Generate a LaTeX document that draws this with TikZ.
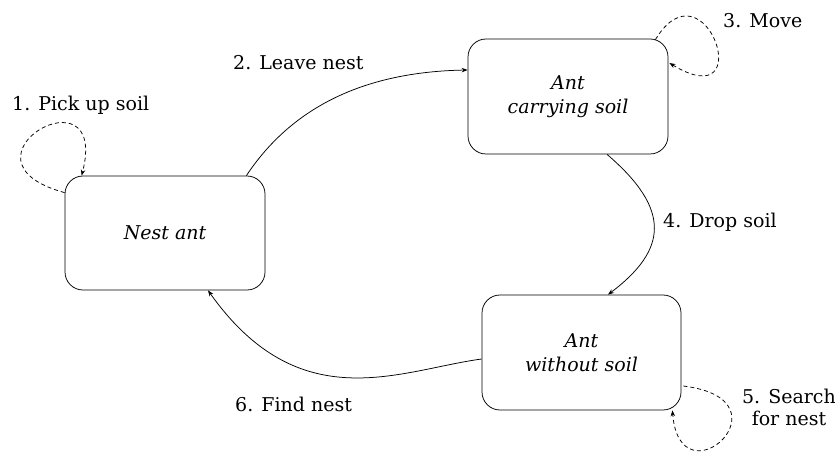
\documentclass[tikz,border=0pt]{standalone}
\usepackage{fontspec}
\setmainfont{DejaVu Serif}
\usetikzlibrary{arrows.meta,calc}
\begin{document}
\begin{tikzpicture}[x=1pt,y=-1pt,
  state/.style={draw,rounded corners=18pt,line width=0.75pt,align=center,inner sep=0pt,
    font=\fontsize{19}{24}\selectfont\itshape},
  lbl/.style={font=\fontsize{19}{22}\selectfont,inner sep=0pt},
  edge/.style={line width=0.75pt,-{Stealth[length=6pt,width=4.5pt]}},
  loopedge/.style={edge,dash pattern=on 4pt off 3pt}]
\useasboundingbox (0,0) rectangle (835,454);
\node[state,minimum width=200pt,minimum height=114pt] (nest) at (165,233) {Nest ant};
\node[state,minimum width=200pt,minimum height=115pt] (carry) at (568,96.5) {Ant\\carrying soil};
\node[state,minimum width=199pt,minimum height=115pt] (without) at (581.5,352.5) {Ant\\without soil};
% transitions
\draw[edge] ($(nest.north east)+(-19,0)$) .. controls (290,110) and (360,72) .. ($(carry.west)+(0,-26.5)$);
\draw[edge] ($(carry.south)+(39,0)$) .. controls (672,210) and (667,250) .. ($(without.north)+(26.5,0)$);
\draw[edge] ($(without.west)+(0,6.5)$) .. controls (400,370) and (300,420) .. ($(nest.south)+(43,0)$);
% self loops
\draw[loopedge] ($(nest.north west)+(0,17)$) .. controls (-55,160) and (110,65) .. ($(nest.north west)+(17,0)$);
\draw[loopedge] ($(carry.north east)+(-13,1)$) .. controls (705,-42) and (760,118) .. ($(carry.east)+(1,-33.5)$);
\draw[loopedge] ($(without.east)+(2,33.5)$) .. controls (795,400) and (680,505) .. ($(without.south east)+(-9,0)$);
% labels
\node[lbl,anchor=base west] (l1) at (12,111) {1. Pick up soil};
\node[lbl,anchor=base west] (l2) at (233,70) {2. Leave nest};
\node[lbl,anchor=base west] (l3) at (723,28) {3. Move};
\node[lbl,anchor=base west] (l4) at (663,228) {4. Drop soil};
\node[lbl,align=center] (l5) at (789,407) {5. Search\\for nest};
\node[lbl,anchor=base west] (l6) at (235,411) {6. Find nest};
\end{tikzpicture}
\end{document}
